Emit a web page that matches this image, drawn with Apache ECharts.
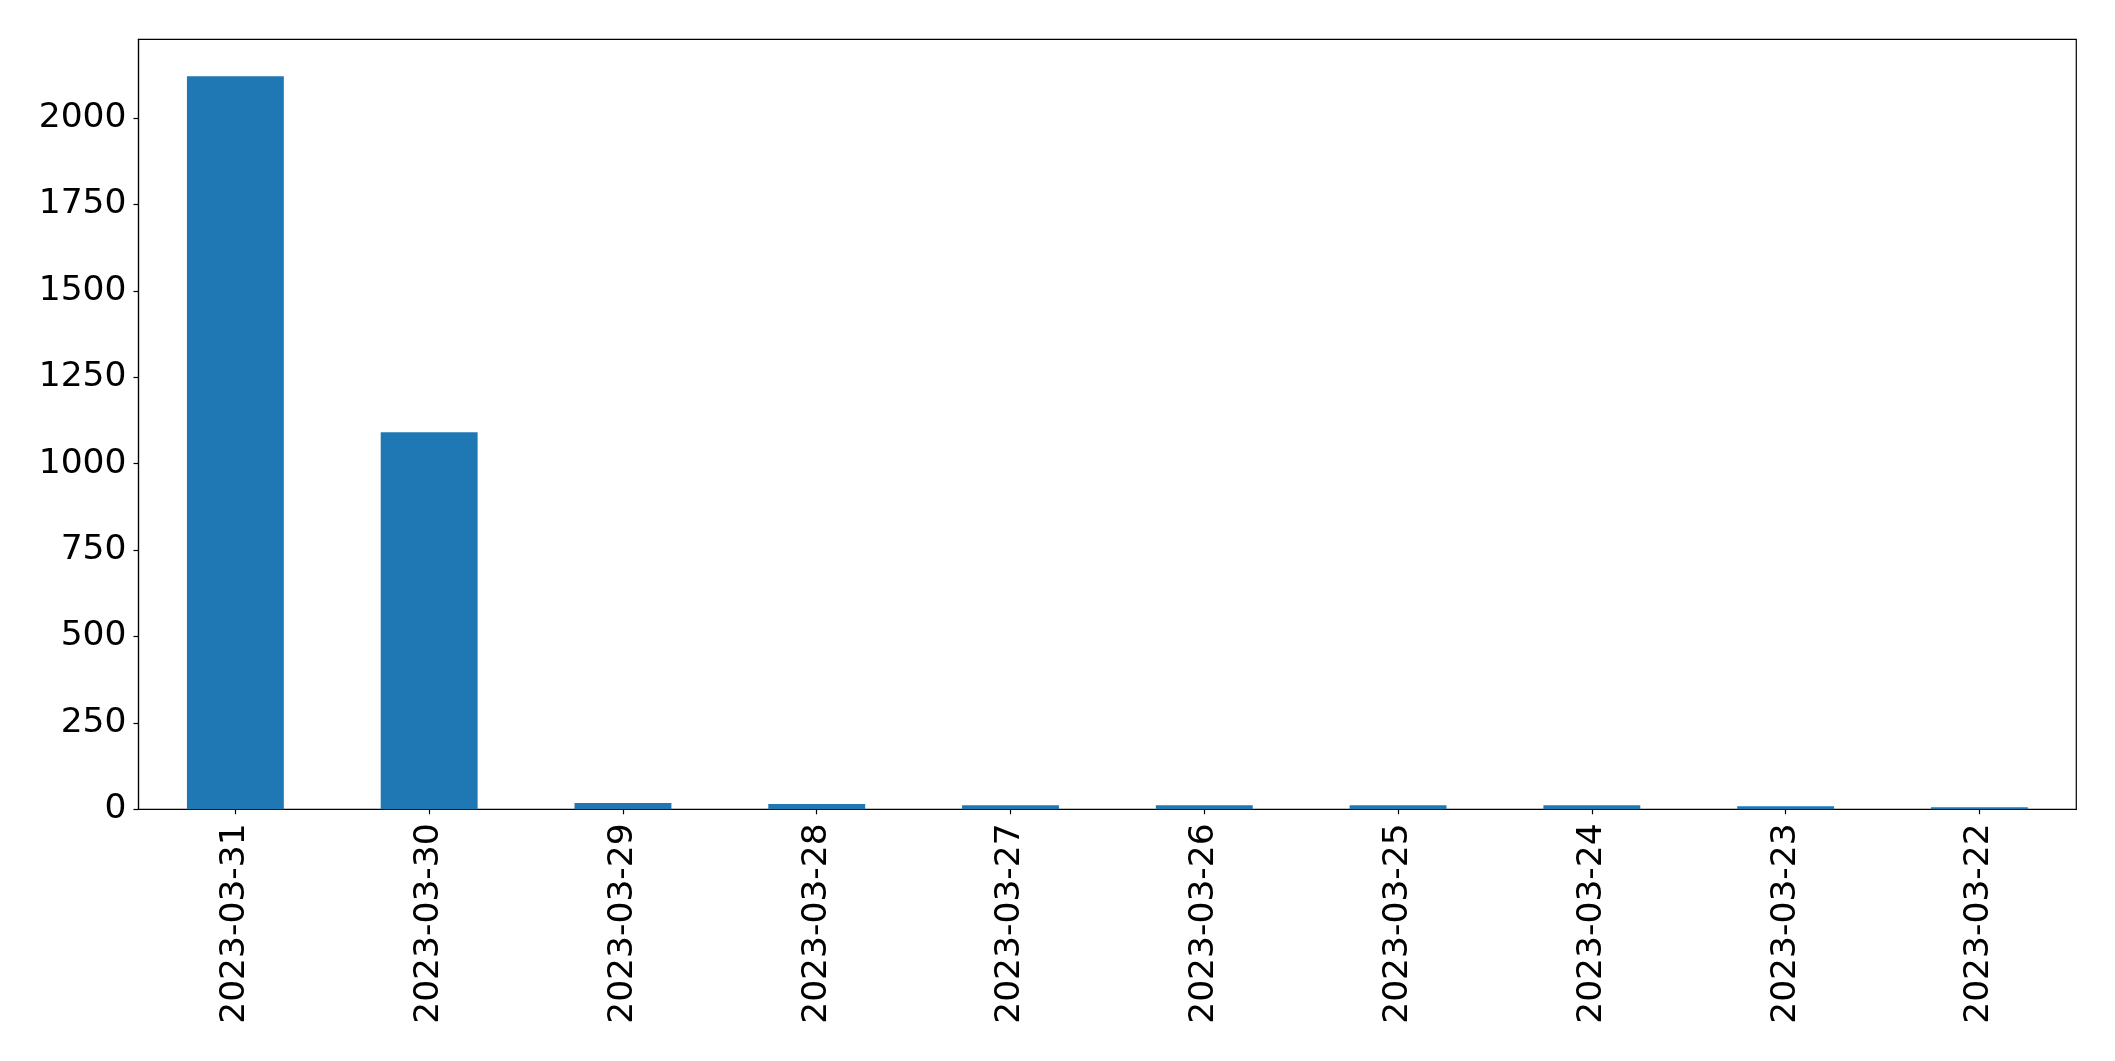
<!DOCTYPE html>
<html>
<head>
<meta charset="utf-8">
<script src="https://cdn.jsdelivr.net/npm/echarts@6/dist/echarts.min.js"></script>
<style>
html,body{margin:0;padding:0;background:#fff;}
#chart{width:2115px;height:1061px;}
</style>
</head>
<body>
<div id="chart"></div>
<script>
const categories = ["2023-03-31","2023-03-30","2023-03-29","2023-03-28","2023-03-27","2023-03-26","2023-03-25","2023-03-24","2023-03-23","2023-03-22"];
const values = [2121, 1091, 18, 15, 12, 12, 12, 12, 9, 6];
const yMax = 2227.6;
const yInterval = 250;

const chart = echarts.init(document.getElementById('chart'), null, {renderer: 'canvas'});
const font = 'DejaVu Sans';
chart.setOption({
  animation: false,
  backgroundColor: '#ffffff',
  grid: {
    left: 138.5, right: 38.7, top: 39.3, bottom: 251.7,
    show: true, borderColor: '#000', borderWidth: 1.2, backgroundColor: 'transparent'
  },
  xAxis: {
    type: 'category',
    data: categories,
    boundaryGap: true,
    axisLine: {show: true, lineStyle: {color: '#000', width: 1.2}},
    axisTick: {show: true, alignWithLabel: true, length: 5, lineStyle: {color: '#000', width: 1.2}},
    axisLabel: {rotate: 90, margin: 14, color: '#000', fontFamily: font, fontSize: 34.5, interval: 0},
    splitLine: {show: false}
  },
  yAxis: {
    type: 'value',
    min: 0, max: yMax, interval: yInterval,
    axisLine: {show: true, lineStyle: {color: '#000', width: 1.2}},
    axisTick: {show: true, length: 5, lineStyle: {color: '#000', width: 1.2}},
    axisLabel: {showMaxLabel: false, margin: 12, color: '#000', fontFamily: font, fontSize: 34.5,
      formatter: function (v) { return String(v); }},
    splitLine: {show: false}
  },
  series: [{
    type: 'bar',
    data: values,
    barWidth: '50%',
    itemStyle: {color: '#1f77b4'}
  }]
});
</script>
</body>
</html>
